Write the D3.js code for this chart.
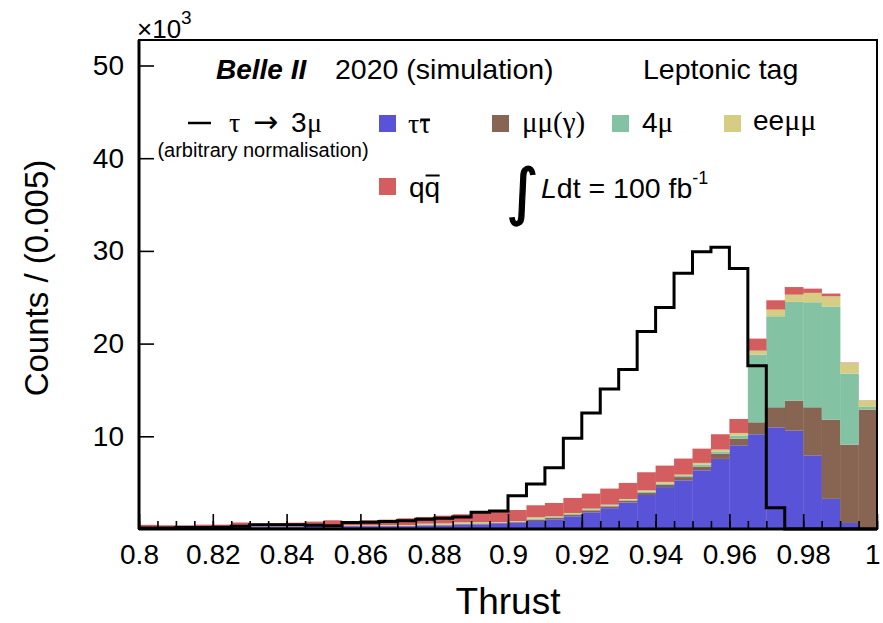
<!DOCTYPE html>
<html><head><meta charset="utf-8">
<script src="https://cdn.jsdelivr.net/npm/d3@7"></script>
<style>body{margin:0;background:#fff}</style>
</head><body>
<svg id="c" width="883" height="623"></svg>
<script>
// ---- data (values in units of 10^3 counts per 0.005 bin) ----
const binLow = [0.800,0.805,0.810,0.815,0.820,0.825,0.830,0.835,0.840,0.845,
                0.850,0.855,0.860,0.865,0.870,0.875,0.880,0.885,0.890,0.895,
                0.900,0.905,0.910,0.915,0.920,0.925,0.930,0.935,0.940,0.945,
                0.950,0.955,0.960,0.965,0.970,0.975,0.980,0.985,0.990,0.995];
const binWidth = 0.005;
const tautau = [0.05,0.05,0.05,0.15,0.15,0.05,0.22,0.22,0.22,0.30,0.18,0.30,0.30,0.30,0.30,0.37,0.37,0.47,0.50,0.62,
                0.70,0.86,1.05,1.37,1.80,2.25,2.85,3.67,4.52,5.25,6.33,7.56,9.03,10.22,10.97,10.60,7.95,3.25,0.65,0.10];
const mumu   = [0.15,0.03,0.03,0.03,0.03,0.25,0.03,0.03,0.03,0.03,0.04,0.03,0.03,0.03,0.04,0.05,0.06,0.08,0.08,0.04,
                0.06,0.14,0.14,0.15,0.22,0.20,0.21,0.22,0.23,0.35,0.37,0.57,0.72,1.29,2.16,3.25,5.18,8.55,8.45,12.78];
const fourmu = [0,0,0,0,0,0,0.02,0.02,0.02,0.02,0.03,0.02,0.02,0.03,0.03,0.06,0.06,0.05,0.05,0.03,
                0.04,0.10,0.09,0.10,0.08,0.10,0.09,0.13,0.15,0.12,0.25,0.22,0.32,7.29,9.82,10.65,11.33,12.20,7.66,0.29];
const eemumu = [0,0.02,0.02,0.02,0.02,0.02,0.03,0.03,0.03,0.05,0.05,0.05,0.05,0.06,0.06,0.10,0.11,0.12,0.12,0.05,
                0.05,0.17,0.09,0.11,0.10,0.08,0.09,0.15,0.18,0.15,0.18,0.22,0.29,0.44,0.72,0.78,1.01,1.10,1.14,0.71];
const qqbar  = [0.25,0.30,0.30,0.27,0.27,0.38,0.28,0.35,0.38,0.40,0.64,0.45,0.54,0.59,0.72,0.72,0.84,0.87,1.09,1.11,
                1.20,1.29,1.44,1.62,1.62,1.73,1.73,1.95,1.76,1.73,1.54,1.65,1.51,1.30,1.00,0.82,0.46,0.30,0.05,0.02];
const signal = [0.10,0.10,0.15,0.15,0.20,0.30,0.45,0.45,0.45,0.40,0.35,0.70,0.72,0.80,0.90,1.05,1.15,1.30,1.80,1.95,
                3.60,4.86,6.60,9.80,12.50,15.10,17.20,21.30,23.90,27.60,29.90,30.40,28.10,17.60,2.30,0,0,0,0,0];
const seriesKeys   = ["tautau","mumu","fourmu","eemumu","qqbar"];
const seriesColors = ["#5953d8","#876552","#84c2a4","#d5cd84","#d35d5f"];
const xTickValues = [0.8,0.82,0.84,0.86,0.88,0.9,0.92,0.94,0.96,0.98,1.0];
const xTickLabels = ["0.8","0.82","0.84","0.86","0.88","0.9","0.92","0.94","0.96","0.98","1"];
const yTickValues = [10,20,30,40,50];
const yTickLabels = ["10","20","30","40","50"];

// ---- layout ----
const svg = d3.select("#c");
const L = 139, R = 877, T = 40, B = 529;
const x = d3.scaleLinear().domain([0.8, 1.0]).range([L, R]);
const y = d3.scaleLinear().domain([0, 52.75]).range([B, T]);
const SANS = "'Liberation Sans', Arial, Helvetica, sans-serif";
const SERIF = "'Liberation Serif', 'DejaVu Serif', serif";

const table = binLow.map((lo, i) => ({lo, tautau: tautau[i], mumu: mumu[i], fourmu: fourmu[i], eemumu: eemumu[i], qqbar: qqbar[i]}));
const stacked = d3.stack().keys(seriesKeys)(table);

const gBars = svg.append("g");
stacked.forEach((layer, k) => {
  gBars.append("g").attr("fill", seriesColors[k])
    .selectAll("rect").data(layer).join("rect")
    .attr("x", d => x(d.data.lo))
    .attr("width", d => x(d.data.lo + binWidth) - x(d.data.lo) + 0.3)
    .attr("y", d => y(d[1]))
    .attr("height", d => Math.max(0, y(d[0]) - y(d[1])));
});

// signal step line
const pts = binLow.map((lo, i) => [lo, signal[i]]);
pts.push([1.0, signal[signal.length - 1]]);
svg.append("path")
  .attr("d", d3.line().x(d => x(d[0])).y(d => y(d[1])).curve(d3.curveStepAfter)(pts))
  .attr("fill", "none").attr("stroke", "#000").attr("stroke-width", 3).attr("stroke-linejoin", "miter");

// x axis ticks (inside, ROOT style)
const xMinor = d3.range(0, 41).map(i => 0.8 + i * binWidth);
const xAxisMinor = d3.axisBottom(x).tickValues(xMinor).tickSize(-8).tickFormat("");
svg.append("g").attr("transform", `translate(0,${B})`).call(xAxisMinor)
  .call(g => g.select(".domain").remove())
  .call(g => g.selectAll("line").attr("stroke", "#000").attr("stroke-width", 1.6));
const xAxis = d3.axisBottom(x).tickValues(xTickValues).tickSize(-15).tickPadding(14)
  .tickFormat((d, i) => xTickLabels[i]);
svg.append("g").attr("transform", `translate(0,${B})`).call(xAxis)
  .call(g => g.select(".domain").remove())
  .call(g => g.selectAll("line").attr("stroke", "#000").attr("stroke-width", 1.6))
  .call(g => g.selectAll("text").attr("font-family", SANS).attr("font-size", 28).attr("fill", "#000").attr("dy", "0.71em").attr("y", 15))
  .call(g => g.selectAll("text").filter((d, i) => i === xTickValues.length - 1).attr("text-anchor", "end").attr("x", 3));

const yAxis = d3.axisLeft(y).tickValues(yTickValues).tickSize(-15).tickPadding(16)
  .tickFormat((d, i) => yTickLabels[i]);
svg.append("g").attr("transform", `translate(${L},0)`).call(yAxis)
  .call(g => g.select(".domain").remove())
  .call(g => g.selectAll("line").attr("stroke", "#000").attr("stroke-width", 1.6))
  .call(g => g.selectAll("text").attr("font-family", SANS).attr("font-size", 28).attr("fill", "#000").attr("x", -15));

// frame
svg.append("rect").attr("x", L).attr("y", T).attr("width", R - L).attr("height", B - T)
  .attr("fill", "none").attr("stroke", "#000").attr("stroke-width", 2);
svg.append("line").attr("x1", L).attr("x2", R).attr("y1", B).attr("y2", B).attr("stroke", "#000").attr("stroke-width", 3);
svg.append("line").attr("x1", L).attr("x2", L).attr("y1", T).attr("y2", B).attr("stroke", "#000").attr("stroke-width", 3);

// axis titles
svg.append("text").attr("x", 508).attr("y", 614).attr("text-anchor", "middle")
  .attr("font-family", SANS).attr("font-size", 37).text("Thrust");
svg.append("text").attr("transform", "translate(48,278) rotate(-90)").attr("text-anchor", "middle")
  .attr("font-family", SANS).attr("font-size", 33).text("Counts / (0.005)");
const mult = svg.append("text").attr("x", 137).attr("y", 38).attr("font-family", SANS).attr("font-size", 26);
mult.append("tspan").text("×10");
mult.append("tspan").attr("font-size", 19).attr("dy", -14).text("3");

// header
svg.append("text").attr("x", 216).attr("y", 79).attr("font-family", SANS).attr("font-size", 28)
  .attr("font-weight", "bold").attr("font-style", "italic").text("Belle II");
svg.append("text").attr("x", 335).attr("y", 79).attr("font-family", SANS).attr("font-size", 28.5).text("2020 (simulation)");
svg.append("text").attr("x", 643).attr("y", 79).attr("font-family", SANS).attr("font-size", 28.5).text("Leptonic tag");

// legend: signal
svg.append("line").attr("x1", 188).attr("x2", 211).attr("y1", 123).attr("y2", 123).attr("stroke", "#000").attr("stroke-width", 2.5);
const sigTxt = [["τ", 229, SERIF, 28], ["→", 253, "'DejaVu Sans', sans-serif", 30], ["3", 291, SANS, 28], ["μ", 307, SERIF, 28]];
sigTxt.forEach(([t, xx, f, fs]) => svg.append("text").attr("x", xx).attr("y", 132).attr("font-family", f).attr("font-size", fs).text(t));
svg.append("text").attr("x", 263).attr("y", 157).attr("text-anchor", "middle").attr("font-family", SANS)
  .attr("font-size", 20).text("(arbitrary normalisation)");

// legend boxes
const legBoxes = [[379,115,0],[492,115,1],[612,115,2],[724,115,3],[379,178,4]];
legBoxes.forEach(([bx, by, k]) => svg.append("rect").attr("x", bx).attr("y", by).attr("width", 17).attr("height", 17).attr("fill", seriesColors[k]));

function barred(x0, base, ch, font, barY) {
  const t1 = svg.append("text").attr("x", x0).attr("y", base).attr("font-family", font).attr("font-size", 28).text(ch);
  const w = t1.node().getComputedTextLength();
  svg.append("text").attr("x", x0 + w).attr("y", base).attr("font-family", font).attr("font-size", 28).text(ch);
  svg.append("line").attr("x1", x0 + w + 1).attr("x2", x0 + 2 * w - 0.5).attr("y1", barY).attr("y2", barY)
    .attr("stroke", "#000").attr("stroke-width", 2);
}
barred(408, 133, "τ", SERIF, 119.5);
barred(409, 197, "q", SANS, 175.5);

svg.append("text").attr("x", 522).attr("y", 132).attr("font-family", SERIF).attr("font-size", 29).text("μμ(γ)");
const t4 = svg.append("text").attr("x", 642).attr("y", 132).attr("font-size", 28);
t4.append("tspan").attr("font-family", SANS).text("4");
t4.append("tspan").attr("font-family", SERIF).attr("font-size", 29).text("μ");
const tee = svg.append("text").attr("x", 753).attr("y", 130).attr("font-size", 28);
tee.append("tspan").attr("font-family", SANS).text("ee");
tee.append("tspan").attr("font-family", SERIF).attr("font-size", 30).text("μμ");

// luminosity
svg.append("text").attr("x", 506).attr("y", 213).attr("font-family", "'DejaVu Sans', sans-serif")
  .attr("font-size", 62).attr("stroke", "#000").attr("stroke-width", 1.2).text("∫");
const lum = svg.append("text").attr("x", 541).attr("y", 198).attr("font-family", SANS).attr("font-size", 28.5);
lum.append("tspan").attr("font-style", "italic").text("L");
lum.append("tspan").text("dt = 100 fb");
lum.append("tspan").attr("font-size", 18).attr("dy", -14).text("-1");
</script>
</body></html>
